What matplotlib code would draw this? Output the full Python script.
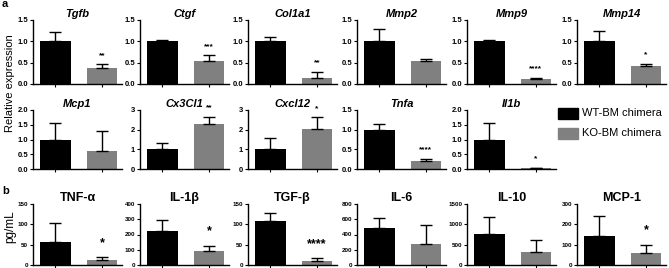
import matplotlib
matplotlib.use('Agg')
import matplotlib.pyplot as plt
from matplotlib.patches import Rectangle

plt.rcParams['font.family'] = ['Liberation Sans', 'DejaVu Sans']

W, H = 669, 268
BLACK = '#000000'
GRAY = '#808080'

# row a: relative expression (WT-BM, KO-BM), mean and upper error
genes_a = ['Tgfb', 'Ctgf', 'Col1a1', 'Mmp2', 'Mmp9', 'Mmp14',
           'Mcp1', 'Cx3Cl1', 'Cxcl12', 'Tnfa', 'Il1b']
wt_a = [1.0, 1.0, 1.0, 1.0, 1.0, 1.0, 1.0, 1.0, 1.0, 1.0, 1.0]
wt_a_err = [0.22, 0.04, 0.09, 0.30, 0.02, 0.25, 0.56, 0.30, 0.57, 0.15, 0.57]
ko_a = [0.37, 0.54, 0.15, 0.55, 0.12, 0.43, 0.60, 2.28, 2.02, 0.20, 0.03]
ko_a_err = [0.09, 0.13, 0.14, 0.03, 0.03, 0.05, 0.68, 0.35, 0.60, 0.06, 0.02]
sig_a = ['**', '***', '**', '', '****', '*', '', '**', '*', '****', '*']
ymax_a = [1.5, 1.5, 1.5, 1.5, 1.5, 1.5, 2.0, 3, 3, 1.5, 2.0]

# row b: cytokines, pg/mL
cyto_b = ['TNF-α', 'IL-1β', 'TGF-β', 'IL-6', 'IL-10', 'MCP-1']
wt_b = [57, 225, 108, 490, 760, 145]
wt_b_err = [46, 68, 20, 120, 410, 95]
ko_b = [12, 90, 10, 275, 330, 57]
ko_b_err = [7, 35, 6, 250, 290, 43]
sig_b = ['*', '*', '****', '', '', '*']
ymax_b = [150, 400, 150, 800, 1500, 300]
ystep_b = [50, 100, 50, 200, 500, 100]

col_left = [33, 140, 248, 357, 467, 577]
col_w = 89
rows = [(20, 84), (110, 169), (204, 265)]


def px_axes(fig, left, top, bottom):
    return fig.add_axes([left / W, 1 - bottom / H, col_w / W, (bottom - top) / H])


def bar_panel(ax, title, vals, errs, sig, ymax, yticks, fmt, italic, tsize, lsize, ssize, soff):
    x = [0, 1]
    ax.bar(x, vals, width=0.65, color=[BLACK, GRAY], zorder=2)
    ax.errorbar(x, vals, yerr=[[0, 0], errs], fmt='none', ecolor='k',
                elinewidth=1.0, capsize=4.5, capthick=1.0, zorder=3)
    ax.set_xlim(-0.48, 1.43)
    ax.set_ylim(0, ymax)
    ax.set_xticks(x)
    ax.set_xticklabels([])
    ax.set_yticks(yticks)
    ax.set_yticklabels([fmt.format(t) for t in yticks], fontsize=lsize, fontweight='bold')
    ax.tick_params(axis='both', length=2.5, width=0.8, pad=1)
    for s in ('top', 'right'):
        ax.spines[s].set_visible(False)
    for s in ('left', 'bottom'):
        ax.spines[s].set_linewidth(1.0)
    ax.set_title(title, fontsize=tsize, fontweight='bold',
                 fontstyle='italic' if italic else 'normal', pad=2)
    if sig:
        ax.annotate(sig, (1, vals[1] + errs[1]), xytext=(0, soff), textcoords='offset points',
                    ha='center', va='bottom', fontsize=ssize, fontweight='bold')


fig = plt.figure(figsize=(W / 100, H / 100), dpi=100)

for i, g in enumerate(genes_a):
    r = 0 if i < 6 else 1
    c = i if i < 6 else i - 6
    ax = px_axes(fig, col_left[c], rows[r][0], rows[r][1])
    ym = ymax_a[i]
    if ym == 3:
        ticks, fmt = [0, 1, 2, 3], '{:.0f}'
    else:
        n = int(round(ym / 0.5))
        ticks, fmt = [k * 0.5 for k in range(n + 1)], '{:.1f}'
    bar_panel(ax, g, [wt_a[i], ko_a[i]], [wt_a_err[i], ko_a_err[i]], sig_a[i],
              ym, ticks, fmt, True, 8, 5.5, 6, 4)

for i, g in enumerate(cyto_b):
    ax = px_axes(fig, col_left[i], rows[2][0], rows[2][1])
    ticks = list(range(0, ymax_b[i] + 1, ystep_b[i]))
    bar_panel(ax, g, [wt_b[i], ko_b[i]], [wt_b_err[i], ko_b_err[i]], sig_b[i],
              ymax_b[i], ticks, '{}', False, 9, 4.5, 9, 6)

# legend
for j, (lab, colr) in enumerate([('WT-BM chimera', BLACK), ('KO-BM chimera', GRAY)]):
    y0 = 108 + j * 20
    fig.patches.append(Rectangle((558 / W, 1 - (y0 + 11) / H), 20 / W, 11 / H,
                                 transform=fig.transFigure, color=colr))
    fig.text(582 / W, 1 - (y0 + 5.5) / H, lab, fontsize=8, va='center', ha='left')

fig.text(10 / W, 1 - 83 / H, 'Relative expression', rotation=90, fontsize=8,
         ha='center', va='center')
fig.text(10 / W, 1 - 227 / H, 'pg/mL', rotation=90, fontsize=8.5,
         ha='center', va='center')
fig.text(2 / W, 1 - 4 / H, 'a', fontsize=8, fontweight='bold', ha='left', va='center')
fig.text(2 / W, 1 - 191 / H, 'b', fontsize=8, fontweight='bold', ha='left', va='center')

fig.savefig('out.png', dpi=100)
